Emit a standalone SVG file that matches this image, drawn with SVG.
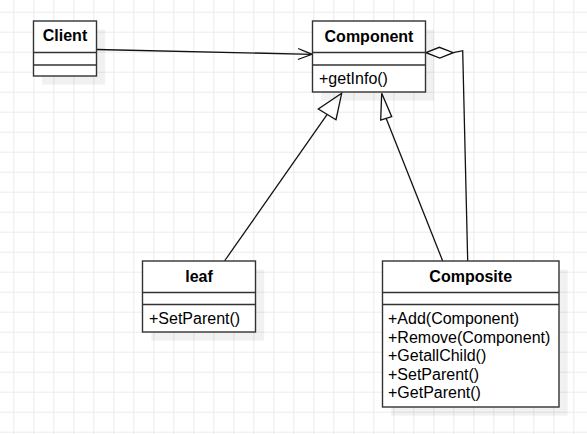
<svg xmlns="http://www.w3.org/2000/svg" width="587" height="434" viewBox="0 0 587 434">
<defs>
<pattern id="grid" patternUnits="userSpaceOnUse" x="13.3" y="11.7" width="20" height="20">
<path d="M0.5 0V20M0 0.5H20" fill="none" stroke="#ebebeb" stroke-width="1"/>
</pattern>
<marker id="open" markerUnits="userSpaceOnUse" markerWidth="20" markerHeight="20" refX="15" refY="10" orient="auto">
<path d="M1 4.5L15 10L1 15.5" fill="none" stroke="#111" stroke-width="1.3"/>
</marker>
</defs>
<style>
.box{fill:#fff;stroke:#333;stroke-width:1.4}
.sh{fill:#000;fill-opacity:0.055}
.sep{stroke:#333;stroke-width:1.4}
.t{font-family:"Liberation Sans",Arial,sans-serif;font-size:16px;font-weight:bold;fill:#000;text-anchor:middle}
.m{font-family:"Liberation Sans",Arial,sans-serif;font-size:16px;fill:#000}
.c{fill:none;stroke:#111;stroke-width:1.3}
.tri{fill:#fff;stroke:#111;stroke-width:1.3}
</style>
<rect width="587" height="434" fill="#fff"/>
<rect width="587" height="434" fill="url(#grid)"/>

<g id="connectors">
<path class="c" d="M96.7 49.5L312 54.3" marker-end="url(#open)"/>
<path class="c" d="M453.3 52.7L462.7 50.7L467.7 261"/>
<path class="tri" d="M426 52.7L439.3 47.3L453.3 52.7L439.8 58Z"/>
<path class="c" d="M224.5 261L327.2 114.4"/>
<path class="tri" d="M341.7 93.3L318.3 109L336 119.7Z"/>
<path class="c" d="M442.7 261L386.2 118.4"/>
<path class="tri" d="M381.7 93.3L380.7 120L391.7 116.7Z"/>
</g>

<g id="client">
<rect class="sh" x="42.2" y="29.7" width="63" height="55"/>
<rect class="box" x="33.5" y="21" width="63" height="55"/>
<path class="sep" d="M33.5 52.5H96.5M33.5 65H96.5"/>
<text class="t" x="65" y="41.2">Client</text>
</g>

<g id="component">
<rect class="sh" x="321.2" y="29.7" width="113" height="71"/>
<rect class="box" x="312.5" y="21" width="113" height="71"/>
<path class="sep" d="M312.5 52.5H425.5M312.5 65H425.5"/>
<text class="t" x="369" y="41.7">Component</text>
<text class="m" x="319" y="84">+getInfo()</text>
</g>

<g id="leaf">
<rect class="sh" x="151.2" y="269.7" width="113" height="71"/>
<rect class="box" x="142.5" y="261" width="113" height="71"/>
<path class="sep" d="M142.5 292.5H255.5M142.5 304.5H255.5"/>
<text class="t" x="199" y="281.7">leaf</text>
<text class="m" x="149" y="324">+SetParent()</text>
</g>

<g id="composite">
<rect class="sh" x="391.2" y="269.7" width="176.5" height="146"/>
<rect class="box" x="382.5" y="261" width="176.5" height="146"/>
<path class="sep" d="M382.5 292.5H559M382.5 304.5H559"/>
<text class="t" x="470.7" y="281.7">Composite</text>
<text class="m" x="388" y="324">+Add(Component)</text>
<text class="m" x="388" y="342.5">+Remove(Component)</text>
<text class="m" x="388" y="361">+GetallChild()</text>
<text class="m" x="388" y="379.5">+SetParent()</text>
<text class="m" x="388" y="398">+GetParent()</text>
</g>
</svg>
